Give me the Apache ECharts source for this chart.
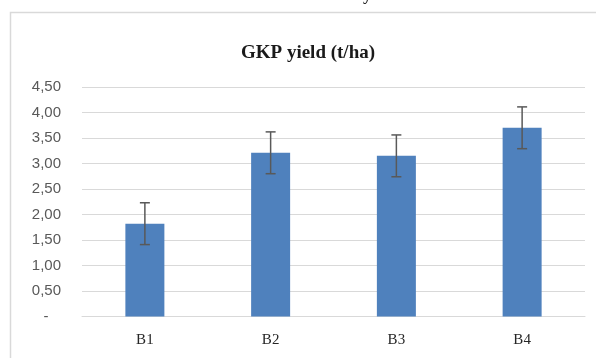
<!DOCTYPE html>
<html>
<head>
<meta charset="utf-8">
<script src="https://cdn.jsdelivr.net/npm/echarts@6/dist/echarts.min.js"></script>
<style>
html,body{margin:0;padding:0;background:#fff;}
#chart{width:596px;height:358px;}
</style>
</head>
<body>
<div id="chart"></div>
<script>
const categories = ['B1', 'B2', 'B3', 'B4'];
const yieldValues = [1.82, 3.21, 3.15, 3.70];
const errorValues = [0.41, 0.41, 0.41, 0.41];
const yMax = 4.5;
const yStep = 0.5;

const chart = echarts.init(document.getElementById('chart'));

const errData = categories.map((c, i) => [i, yieldValues[i] - errorValues[i], yieldValues[i] + errorValues[i]]);

chart.setOption({
  animation: false,
  backgroundColor: '#ffffff',
  title: {
    text: 'GKP yield (t/ha)',
    left: 303,
    textAlign: 'center',
    top: 39,
    textStyle: {
      fontFamily: '"Liberation Serif", "DejaVu Serif", serif',
      fontWeight: 'bold',
      fontSize: 19,
      color: '#1a1a1a'
    }
  },
  graphic: [
    {
      type: 'rect',
      shape: { x: 10.5, y: 12.5, width: 700, height: 500 },
      style: { fill: 'none', stroke: '#d9d9d9', lineWidth: 1.5 },
      silent: true,
      z: -1
    },
    {
      type: 'text',
      left: 363,
      top: -13,
      style: {
        text: 'y',
        font: 'bold 17px "Liberation Serif", serif',
        fill: '#1a1a1a'
      }
    }
  ],
  grid: { left: 82, right: 11, top: 87, bottom: 41.5 },
  xAxis: {
    type: 'category',
    data: categories,
    axisLine: { show: true, lineStyle: { color: '#d9d9d9', width: 1 } },
    axisTick: { show: false },
    axisLabel: {
      margin: 16,
      fontFamily: '"Liberation Serif", "DejaVu Serif", serif',
      fontSize: 15,
      color: '#262626'
    }
  },
  yAxis: {
    type: 'value',
    min: 0,
    max: yMax,
    interval: yStep,
    axisLine: { show: false },
    axisTick: { show: false },
    splitLine: { lineStyle: { color: '#d9d9d9', width: 1 } },
    axisLabel: {
      margin: 21,
      fontFamily: '"Liberation Sans", Arial, sans-serif',
      fontSize: 15,
      color: '#595959',
      formatter: function (v) {
        if (v === 0) return '-   ';
        return v.toFixed(2).replace('.', ',');
      }
    }
  },
  series: [
    {
      type: 'bar',
      data: yieldValues,
      barWidth: 39,
      itemStyle: { color: '#4f81bd' },
      z: 2
    },
    {
      type: 'custom',
      data: errData,
      z: 3,
      renderItem: function (params, api) {
        const x = api.value(0);
        const lo = api.coord([x, api.value(1)]);
        const hi = api.coord([x, api.value(2)]);
        const cap = 5;
        const style = { stroke: '#595959', lineWidth: 1.5 };
        return {
          type: 'group',
          children: [
            { type: 'line', shape: { x1: hi[0], y1: hi[1], x2: lo[0], y2: lo[1] }, style: style },
            { type: 'line', shape: { x1: hi[0] - cap, y1: hi[1], x2: hi[0] + cap, y2: hi[1] }, style: style },
            { type: 'line', shape: { x1: lo[0] - cap, y1: lo[1], x2: lo[0] + cap, y2: lo[1] }, style: style }
          ]
        };
      }
    }
  ]
});
</script>
</body>
</html>
